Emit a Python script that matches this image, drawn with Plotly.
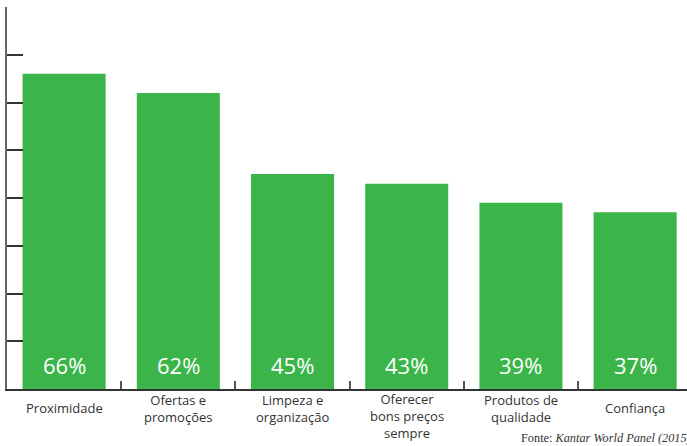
import plotly.graph_objects as go

# Survey answers and their share of respondents (%)
categories = ["Proximidade", "Ofertas e<br>promoções", "Limpeza e<br>organização",
              "Oferecer<br>bons preços<br>sempre", "Produtos de<br>qualidade", "Confiança"]
values = [66, 62, 45, 43, 39, 37]
source_text = "Fonte: <i>Kantar World Panel (2015)</i>"

GREEN = "#3bb54a"
LABEL_FONT = dict(family="Open Sans", size=13, color="#333333")

x_keys = [f"c{i}" for i in range(len(categories))]

fig = go.Figure(go.Bar(
    x=x_keys, y=values,
    marker=dict(color=GREEN, line=dict(width=0)),
    hoverinfo="skip",
))

annotations = []
for key, cat, v in zip(x_keys, categories, values):
    # percentage inside the foot of each bar
    annotations.append(dict(
        x=key, y=0, xref="x", yref="y", text=f"{v}%", showarrow=False,
        yanchor="middle", yshift=24,
        font=dict(family="Open Sans", size=22, color="white"),
    ))
    # category name under the axis; 1-2 line names are centred on one row,
    # longer ones hang from the same first line
    n_lines = cat.count("<br>") + 1
    center = 19 if n_lines <= 2 else 26.5  # px below the axis
    annotations.append(dict(
        x=key, y=0, xref="x", yref="y", text=cat, showarrow=False,
        yanchor="middle", yshift=-center, align="center",
        font=LABEL_FONT,
    ))

annotations.append(dict(
    x=0.7535, y=-0.128, xref="paper", yref="paper", text=source_text,
    showarrow=False, xanchor="left", yanchor="middle",
    font=dict(family="Liberation Serif", size=12.3, color="#333333"),
))

fig.update_layout(
    width=687, height=446,
    margin=dict(l=7, r=0, t=7, b=57),
    paper_bgcolor="white", plot_bgcolor="white",
    bargap=0.273, showlegend=False,
    annotations=annotations,
    xaxis=dict(
        type="category", range=[-0.5, 5.454],
        showticklabels=False, showgrid=False,
        showline=True, linecolor="#333333", linewidth=1.5,
        ticks="inside", tickson="boundaries", ticklen=8,
        tickcolor="#555555", tickwidth=1.5,
        fixedrange=True,
    ),
    yaxis=dict(
        range=[0, 80], dtick=10, showticklabels=False, showgrid=False,
        zeroline=False,
        showline=True, linecolor="#666666", linewidth=2,
        ticks="inside", ticklen=16, tickcolor="#333333", tickwidth=1.5,
        fixedrange=True,
    ),
)

fig.write_html("out.html")
